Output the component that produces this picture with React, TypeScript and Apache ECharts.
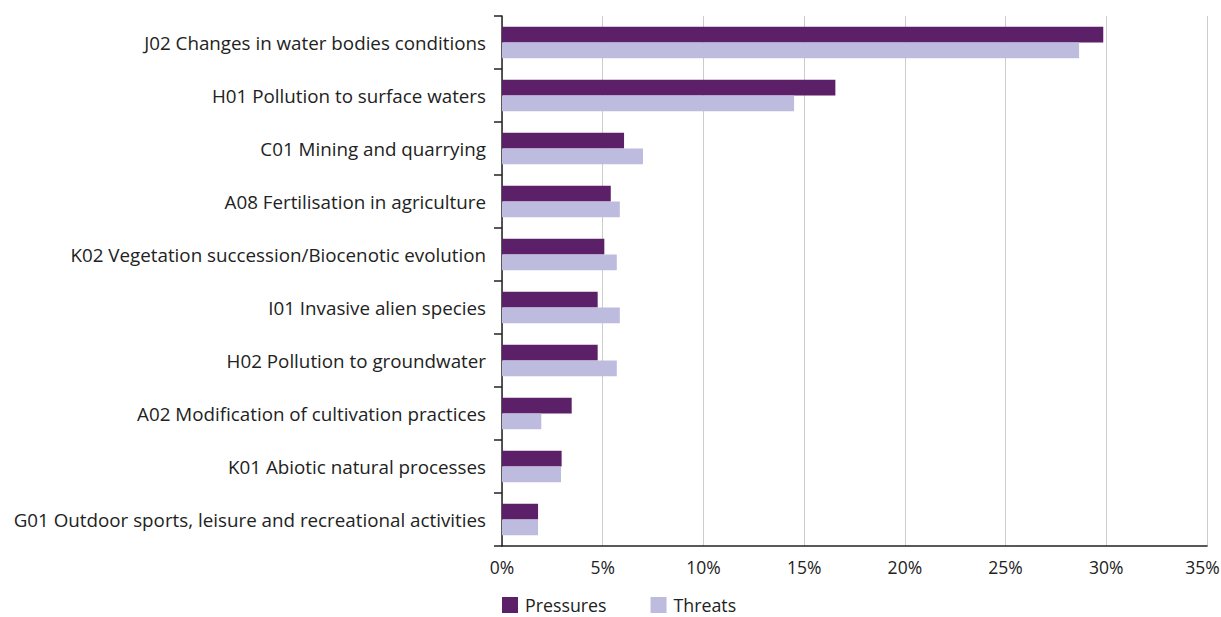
import React, { useEffect, useRef } from "react";
import * as echarts from "echarts";

const categories = [
  "J02 Changes in water bodies conditions",
  "H01 Pollution to surface waters",
  "C01 Mining and quarrying",
  "A08 Fertilisation in agriculture",
  "K02 Vegetation succession/Biocenotic evolution",
  "I01 Invasive alien species",
  "H02 Pollution to groundwater",
  "A02 Modification of cultivation practices",
  "K01 Abiotic natural processes",
  "G01 Outdoor sports, leisure and recreational activities",
];
const pressures = [29.85, 16.55, 6.06, 5.4, 5.08, 4.75, 4.75, 3.46, 2.96, 1.79];
const threats = [28.65, 14.5, 7.0, 5.85, 5.7, 5.85, 5.7, 1.95, 2.93, 1.79];
const xMax = 35;

export default function App() {
  const ref = useRef<HTMLDivElement>(null);
  useEffect(() => {
    const chart = echarts.init(ref.current!, null, { renderer: "svg" });
    chart.setOption({
      animation: false,
      textStyle: { fontFamily: "Open Sans" },
      grid: {
        left: 502,
        right: 14,
        top: 16,
        bottom: 71,
        containLabel: false,
        outerBoundsMode: "none",
      },
      legend: {
        left: 502,
        top: 596,
        padding: 0,
        itemWidth: 16,
        itemHeight: 16,
        itemGap: 44,
        icon: "rect",
        textStyle: {
          fontSize: 17.8,
          color: "#222",
          fontFamily: "Open Sans",
          lineHeight: 18,
          padding: [0, 0, 0, 2],
        },
        data: ["Pressures", "Threats"],
      },
      xAxis: {
        type: "value",
        min: 0,
        max: xMax,
        interval: 5,
        axisLine: { show: true, lineStyle: { color: "#222", width: 1.5 } },
        axisTick: { show: false },
        splitLine: { show: true, lineStyle: { color: "#ccc" } },
        axisLabel: {
          formatter: (v: number) => (v === xMax ? "{last|" + v + "%}" : v + "%"),
          fontSize: 17.5,
          color: "#222",
          margin: 12,
          fontFamily: "Open Sans",
          rich: {
            last: { fontSize: 17.5, color: "#222", fontFamily: "Open Sans", padding: [0, 9, 0, 0] },
          },
        },
      },
      yAxis: {
        type: "category",
        inverse: true,
        data: categories,
        axisLine: { show: true, lineStyle: { color: "#222", width: 1.5 } },
        axisTick: { show: true, length: 8, lineStyle: { color: "#222", width: 1.5 } },
        axisLabel: { fontSize: 18.8, color: "#222", margin: 16, fontFamily: "Open Sans" },
        splitLine: { show: false },
      },
      series: [
        {
          name: "Pressures",
          type: "bar",
          data: pressures,
          barGap: "0%",
          barCategoryGap: "41%",
          itemStyle: { color: "#5b2068" },
        },
        {
          name: "Threats",
          type: "bar",
          data: threats,
          barGap: "0%",
          barCategoryGap: "41%",
          itemStyle: { color: "#bebcde" },
        },
      ],
    });
    return () => chart.dispose();
  }, []);
  return <div ref={ref} style={{ width: 1221, height: 617, position: "absolute", left: 0, top: 0 }} />;
}
